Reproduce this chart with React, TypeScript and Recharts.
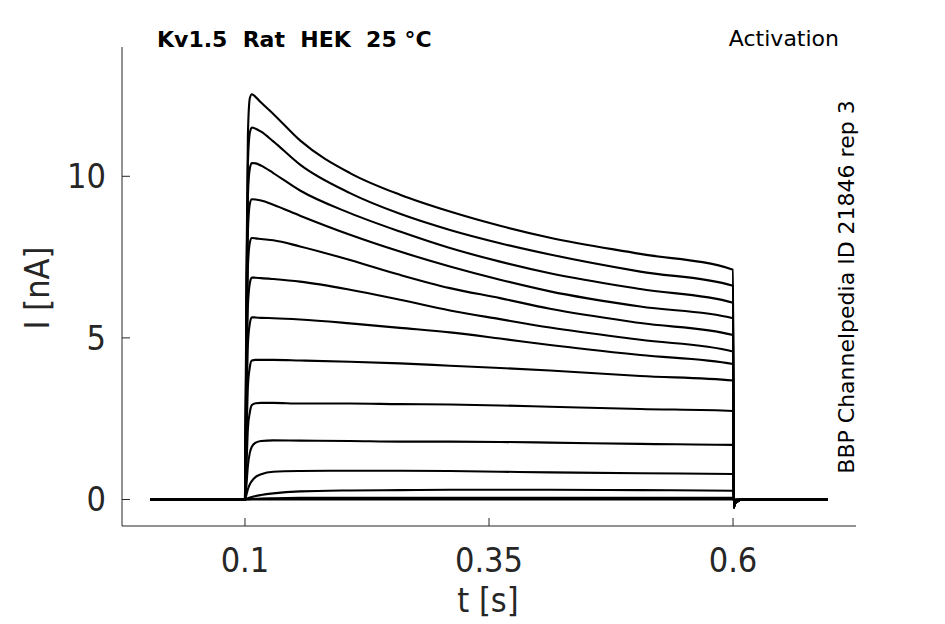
import { Line, LineChart, XAxis, YAxis } from "recharts";

// sample times [s]
const times = [0.003, 0.1, 0.1015, 0.103, 0.105, 0.107, 0.111, 0.1165, 0.129, 0.1564, 0.2076, 0.2588, 0.31, 0.3613, 0.4125, 0.505, 0.6, 0.6008, 0.602, 0.605, 0.61, 0.697];

// current per sweep [nA], one value per time above
const sweep1 = [0, 0, 7.0, 11.3, 12.42, 12.54, 12.45, 12.28, 11.93, 11.11, 10.1, 9.43, 8.91, 8.47, 8.1, 7.6, 7.11, -0.25, -0.12, -0.05, 0, 0];
const sweep2 = [0, 0, 6.3, 10.4, 11.35, 11.51, 11.47, 11.38, 11.08, 10.36, 9.48, 8.84, 8.34, 7.93, 7.58, 7.05, 6.61, -0.25, -0.12, -0.05, 0, 0];
const sweep3 = [0, 0, 5.6, 9.4, 10.25, 10.41, 10.4, 10.33, 10.1, 9.56, 8.86, 8.29, 7.78, 7.36, 7.0, 6.51, 6.09, -0.25, -0.12, -0.05, 0, 0];
const sweep4 = [0, 0, 4.9, 8.3, 9.15, 9.29, 9.28, 9.25, 9.12, 8.78, 8.19, 7.67, 7.21, 6.8, 6.44, 5.97, 5.61, -0.25, -0.12, -0.05, 0, 0];
const sweep5 = [0, 0, 4.1, 7.2, 7.95, 8.09, 8.08, 8.06, 8.02, 7.83, 7.41, 6.95, 6.54, 6.23, 5.9, 5.46, 5.09, -0.25, -0.12, -0.05, 0, 0];
const sweep6 = [0, 0, 3.4, 6.0, 6.7, 6.87, 6.86, 6.85, 6.82, 6.74, 6.49, 6.18, 5.85, 5.58, 5.32, 4.94, 4.58, -0.25, -0.12, -0.05, 0, 0];
const sweep7 = [0, 0, 2.6, 4.8, 5.45, 5.64, 5.63, 5.62, 5.61, 5.57, 5.45, 5.31, 5.17, 4.98, 4.78, 4.47, 4.19, -0.25, -0.12, -0.05, 0, 0];
const sweep8 = [0, 0, 1.8, 3.5, 4.1, 4.3, 4.32, 4.32, 4.32, 4.3, 4.26, 4.21, 4.14, 4.07, 3.99, 3.82, 3.68, -0.22, -0.1, -0.04, 0, 0];
const sweep9 = [0, 0, 1.0, 2.2, 2.7, 2.92, 2.98, 2.99, 2.99, 2.97, 2.97, 2.95, 2.94, 2.91, 2.87, 2.8, 2.74, -0.2, -0.08, -0.03, 0, 0];
const sweep10 = [0, 0, 0.45, 1.05, 1.45, 1.63, 1.76, 1.81, 1.83, 1.82, 1.81, 1.79, 1.79, 1.78, 1.76, 1.72, 1.69, -0.15, -0.06, -0.02, 0, 0];
const sweep11 = [0, 0, 0.15, 0.32, 0.47, 0.57, 0.7, 0.78, 0.86, 0.88, 0.89, 0.89, 0.88, 0.86, 0.84, 0.81, 0.79, -0.1, -0.04, -0.01, 0, 0];
const sweep12 = [0, 0, 0.02, 0.04, 0.06, 0.08, 0.11, 0.14, 0.19, 0.25, 0.28, 0.29, 0.3, 0.3, 0.3, 0.29, 0.27, -0.05, -0.02, 0, 0, 0];
const sweep13 = [0, 0, 0, 0.01, 0.01, 0.02, 0.02, 0.03, 0.04, 0.05, 0.05, 0.05, 0.05, 0.05, 0.05, 0.05, 0.05, -0.02, 0, 0, 0, 0];
const sweep14 = [0, 0, 0, 0, 0, 0, 0, 0, 0, 0, 0, 0, 0, 0, 0, 0, 0, 0, 0, 0, 0, 0];

const sweeps = [sweep1, sweep2, sweep3, sweep4, sweep5, sweep6, sweep7, sweep8, sweep9, sweep10, sweep11, sweep12, sweep13, sweep14];

const xTicks = [0.1, 0.35, 0.6];
const yTicks = [0, 5, 10];

const rows = times.map((t, i) => {
  const row: Record<string, number> = { t };
  sweeps.forEach((s, k) => {
    row["s" + (k + 1)] = s[i];
  });
  return row;
});

const axisColor = "#262626";
const tickFont = "'DejaVu Sans Condensed', 'DejaVu Sans', sans-serif";

function XTick(props: any) {
  const { x, y, payload } = props;
  return (
    <g>
      <line x1={x} y1={y} x2={x} y2={y - 8} stroke={axisColor} strokeWidth={1} />
      <text x={x} y={y + 46} textAnchor="middle" fontFamily={tickFont} fontStretch="condensed" fontSize={34} fill={axisColor}>
        {payload.value}
      </text>
    </g>
  );
}

function YTick(props: any) {
  const { x, y, payload } = props;
  return (
    <g>
      <line x1={x} y1={y} x2={x + 8} y2={y} stroke={axisColor} strokeWidth={1} />
      <text x={x - 16} y={y + 12} textAnchor="end" fontFamily={tickFont} fontStretch="condensed" fontSize={34} fill={axisColor}>
        {payload.value}
      </text>
    </g>
  );
}

export default function App() {
  return (
    <div style={{ position: "absolute", left: 0, top: 0, width: 945, height: 624, background: "#fff" }}>
      <LineChart width={945} height={624} data={rows} margin={{ top: 47, right: 89, bottom: 38, left: 62 }}>
        <XAxis
          dataKey="t"
          type="number"
          domain={[-0.026, 0.726]}
          ticks={xTicks}
          allowDataOverflow
          height={60}
          tickSize={0}
          tickMargin={0}
          tickLine={false}
          stroke={axisColor}
          tick={<XTick />}
        />
        <YAxis
          type="number"
          domain={[-0.82, 14.0]}
          ticks={yTicks}
          allowDataOverflow
          width={60}
          tickSize={0}
          tickMargin={0}
          tickLine={false}
          stroke={axisColor}
          tick={<YTick />}
        />
        {sweeps.map((_, k) => (
          <Line
            key={k}
            type="monotone"
            dataKey={"s" + (k + 1)}
            stroke="#000"
            strokeWidth={2.1}
            dot={false}
            activeDot={false}
            isAnimationActive={false}
          />
        ))}
      </LineChart>
      <svg width={945} height={624} style={{ position: "absolute", left: 0, top: 0, pointerEvents: "none" }}>
        <text x={157} y={47} fontFamily="'DejaVu Sans', sans-serif" fontWeight="bold" fontSize={22} fill="#000">
          {"Kv1.5\u00a0\u00a0Rat\u00a0\u00a0HEK\u00a0\u00a025\u00a0°C"}
        </text>
        <text x={839} y={46} textAnchor="end" fontFamily="'DejaVu Sans', sans-serif" fontSize={22} fill="#000">
          Activation
        </text>
        <text transform="translate(854,287) rotate(-90)" textAnchor="middle" fontFamily="'DejaVu Sans', sans-serif" fontSize={22} fill="#000">
          BBP Channelpedia ID 21846 rep 3
        </text>
        <text x={488} y={612} textAnchor="middle" fontFamily={tickFont} fontStretch="condensed" fontSize={34} fill={axisColor}>
          t [s]
        </text>
        <text transform="translate(49,288) rotate(-90)" textAnchor="middle" fontFamily={tickFont} fontStretch="condensed" fontSize={34} fill={axisColor}>
          I [nA]
        </text>
      </svg>
    </div>
  );
}
